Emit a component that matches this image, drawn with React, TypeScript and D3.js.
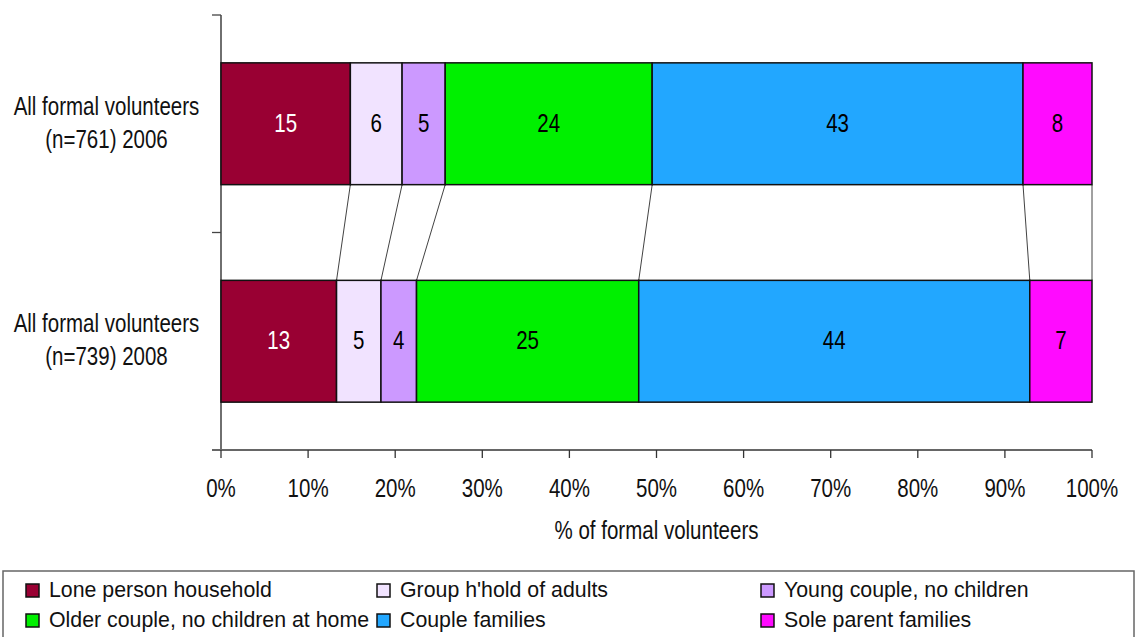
import React from "react";
import * as d3 from "d3";

const categories = ["All formal volunteers\n(n=761) 2006", "All formal volunteers\n(n=739) 2008"];
const seriesNames = [
  "Lone person household",
  "Group h'hold of adults",
  "Young couple, no children",
  "Older couple, no children at home",
  "Couple families",
  "Sole parent families",
];
const values2006 = [15, 6, 5, 24, 43, 8];
const values2008 = [13, 5, 4, 25, 44, 7];
const colors = ["#990033", "#F1E3FF", "#CC99FF", "#00F000", "#22A7FF", "#FF0BFF"];
const labelColors = ["#ffffff", "#000000", "#000000", "#000000", "#000000", "#000000"];
const xTicks = [0, 0.1, 0.2, 0.3, 0.4, 0.5, 0.6, 0.7, 0.8, 0.9, 1];

const W = 1137;
const H = 660;
const plot = { left: 221, right: 1092, top: 15, bottom: 450 };
const FONT = "'Liberation Sans', Arial, sans-serif";

// Text drawn with a horizontal squeeze to get a narrow sans face
function NText({
  x,
  y,
  children,
  size = 25,
  sx = 0.82,
  anchor = "middle",
  fill = "#111",
}: {
  x: number;
  y: number;
  children: React.ReactNode;
  size?: number;
  sx?: number;
  anchor?: string;
  fill?: string;
}) {
  return (
    <text
      transform={`translate(${x},${y}) scale(${sx},1)`}
      textAnchor={anchor as any}
      fontSize={size}
      fill={fill}
    >
      {children}
    </text>
  );
}

export default function App() {
  const rows = [values2006, values2008];
  const x = d3.scaleLinear().domain([0, 1]).range([plot.left, plot.right]);
  const y = d3
    .scaleBand()
    .domain(categories)
    .range([plot.top, plot.bottom])
    .paddingInner(0.44)
    .paddingOuter(0.22);

  // cumulative share boundaries per bar
  const stacks = rows.map((vals) => {
    const total = d3.sum(vals);
    let acc = 0;
    return vals.map((v) => {
      const x0 = acc / total;
      acc += v;
      return { x0, x1: acc / total, v };
    });
  });

  const legendCols = [26, 377, 761];
  const legendRows = [597, 627];

  return (
    <svg
      width={W}
      height={H}
      style={{ position: "absolute", left: 0, top: 0, background: "#fff" }}
      fontFamily={FONT}
    >
      {/* axes */}
      <line x1={plot.left} x2={plot.left} y1={plot.top} y2={plot.bottom} stroke="#222" strokeWidth={1.3} />
      {[plot.top, (plot.top + plot.bottom) / 2].map((t, i) => (
        <line key={"yt" + i} x1={plot.left - 9} x2={plot.left} y1={t} y2={t} stroke="#444" strokeWidth={1.3} />
      ))}
      <line x1={plot.left - 9} x2={plot.right} y1={plot.bottom} y2={plot.bottom} stroke="#666" strokeWidth={2} />
      {xTicks.map((t) => (
        <g key={"xt" + t}>
          <line x1={x(t)} x2={x(t)} y1={plot.bottom} y2={plot.bottom + 8} stroke="#333" strokeWidth={1.3} />
          <NText x={x(t)} y={497}>
            {d3.format(".0%")(t)}
          </NText>
        </g>
      ))}
      <NText x={(plot.left + plot.right) / 2} y={539}>
        % of formal volunteers
      </NText>

      {/* connector lines between matching segment boundaries */}
      {stacks[0].map((s, i) => (
        <line
          key={"c" + i}
          x1={x(s.x1)}
          y1={y(categories[0])! + y.bandwidth()}
          x2={x(stacks[1][i].x1)}
          y2={y(categories[1])!}
          stroke="#111"
          strokeWidth={0.8}
        />
      ))}

      {/* bars */}
      {stacks.map((segs, r) => {
        const by = y(categories[r])!;
        const mid = by + y.bandwidth() / 2;
        return (
          <g key={"bar" + r}>
            {segs.map((s, i) => (
              <g key={i}>
                <rect
                  x={x(s.x0)}
                  y={by}
                  width={x(s.x1) - x(s.x0)}
                  height={y.bandwidth()}
                  fill={colors[i]}
                  stroke="#111"
                  strokeWidth={1.5}
                />
                <NText x={(x(s.x0) + x(s.x1)) / 2} y={mid + 8} fill={labelColors[i]}>
                  {s.v}
                </NText>
              </g>
            ))}
            {categories[r].split("\n").map((line, k) => (
              <NText key={k} x={106.5} y={mid - 9 + k * 33}>
                {line}
              </NText>
            ))}
          </g>
        );
      })}

      {/* legend */}
      <rect x={3} y={571} width={1131} height={80} fill="#fff" stroke="#666" strokeWidth={1.5} />
      {seriesNames.map((name, i) => {
        const cx = legendCols[i % 3];
        const base = legendRows[Math.floor(i / 3)];
        return (
          <g key={"lg" + i}>
            <rect x={cx} y={base - 13} width={13} height={13} fill={colors[i]} stroke="#111" strokeWidth={1.5} />
            <NText x={cx + 23} y={base} size={22} sx={0.97} anchor="start">
              {name}
            </NText>
          </g>
        );
      })}
    </svg>
  );
}
